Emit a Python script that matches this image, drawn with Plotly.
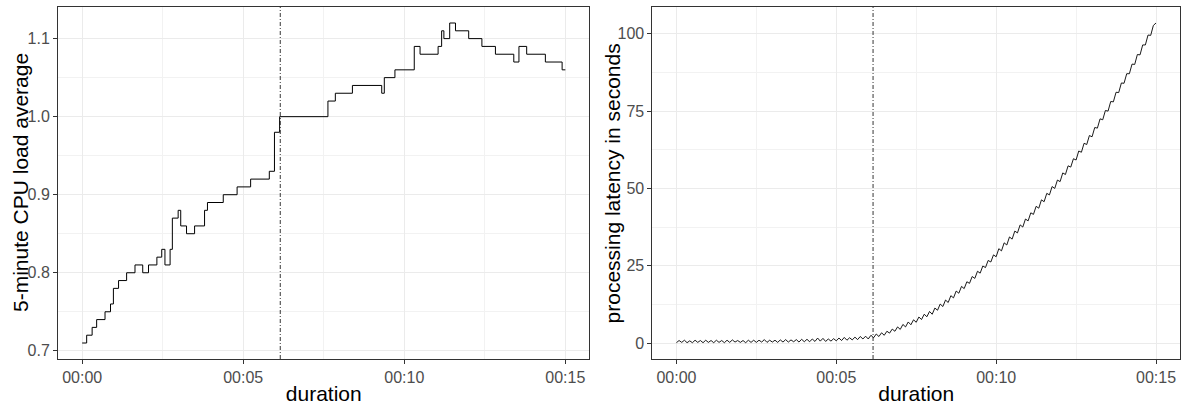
import plotly.graph_objects as go

# ---- data -------------------------------------------------------------
# left panel: 5-minute CPU load average (step series), time in minutes
cpu_minutes = [0, 0.14, 0.31, 0.45, 0.71, 0.88, 0.97, 1.13, 1.38, 1.64, 1.88, 2.06,
               2.32, 2.47, 2.57, 2.73, 2.80, 2.98, 3.06, 3.24, 3.49, 3.80, 3.89, 4.38,
               4.81, 5.23, 5.81, 5.97, 6.13, 7.63, 7.86, 8.39, 9.30, 9.38, 9.71, 10.31,
               10.49, 11.05, 11.16, 11.23, 11.41, 11.59, 12.00, 12.41, 12.83, 13.40,
               13.56, 13.80, 14.38, 14.90, 15.0]
cpu_load = [0.71, 0.72, 0.73, 0.74, 0.75, 0.76, 0.78, 0.79, 0.80, 0.81, 0.80, 0.81,
            0.82, 0.83, 0.81, 0.83, 0.87, 0.88, 0.86, 0.85, 0.86, 0.88, 0.89, 0.90,
            0.91, 0.92, 0.93, 0.98, 1.00, 1.02, 1.03, 1.04, 1.03, 1.05, 1.06, 1.09,
            1.08, 1.09, 1.11, 1.10, 1.12, 1.11, 1.10, 1.09, 1.08, 1.07, 1.09, 1.08,
            1.07, 1.06, 1.06]

# right panel: processing latency in seconds, one reading every 5 seconds
latency_step_seconds = 5
latency = [
    0.1, 0.8, 0.2, 0.9, 0.1, 0.7,
    0.1, 0.9, 0.2, 0.8, 0.1, 0.9,
    0.2, 0.8, 0.1, 0.9, 0.2, 0.8,
    0.1, 0.9, 0.2, 1.0, 0.3, 0.8,
    0.2, 0.8, 0.1, 0.9, 0.2, 0.9,
    0.2, 0.9, 0.3, 1.1, 0.2, 0.9,
    0.3, 0.9, 0.2, 1.0, 0.3, 1.1,
    0.3, 1.0, 0.4, 1.1, 0.3, 1.2,
    0.4, 1.2, 0.4, 1.3, 0.5, 1.6,
    0.6, 1.5, 0.5, 1.3, 0.6, 1.4,
    0.7, 1.6, 0.8, 1.8, 0.9, 1.7,
    1.0, 1.9, 1.1, 2.1, 1.3, 2.2,
    1.3, 2.5, 1.7, 2.9, 2.1, 3.3,
    2.5, 3.8, 3.2, 4.5, 3.8, 5.2,
    4.4, 6.0, 5.2, 6.8, 5.9, 7.5,
    6.7, 8.4, 7.6, 9.3, 8.5, 10.2,
    9.3, 11.3, 10.6, 12.6, 11.8, 13.9,
    13.1, 15.3, 14.6, 16.8, 16.1, 18.3,
    17.6, 19.8, 19.3, 21.5, 20.9, 23.2,
    22.6, 24.9, 24.4, 26.7, 26.2, 28.5,
    27.9, 30.5, 29.8, 32.4, 31.7, 34.3,
    33.6, 36.2, 35.6, 38.2, 37.5, 40.1,
    39.5, 42.1, 41.6, 44.2, 43.6, 46.3,
    45.7, 48.4, 47.9, 50.6, 50.0, 52.7,
    52.2, 55.0, 54.5, 57.3, 56.9, 59.6,
    59.2, 62.1, 61.7, 64.6, 64.2, 67.1,
    66.7, 69.7, 69.5, 72.5, 72.2, 75.2,
    75.0, 78.1, 78.0, 81.1, 81.0, 84.1,
    84.0, 87.1, 87.1, 90.2, 90.1, 93.3,
    93.2, 96.4, 96.4, 99.6, 99.5, 102.7,
    103.5,
]
latency_minutes = [i * latency_step_seconds / 60 for i in range(len(latency))]

event_minute = 6.15  # dashed reference line

x_tick_vals = [0, 5, 10, 15]
x_tick_text = ["00:00", "00:05", "00:10", "00:15"]
cpu_tick_vals = [0.7, 0.8, 0.9, 1.0, 1.1]
cpu_tick_text = ["0.7", "0.8", "0.9", "1.0", "1.1"]
lat_tick_vals = [0, 25, 50, 75, 100]

x_title = "duration"
cpu_title = "5-minute CPU load average"
lat_title = "processing latency in seconds"

# ---- figure -----------------------------------------------------------
FONT = "Liberation Sans, Arial, sans-serif"
fig = go.Figure()
fig.add_trace(go.Scatter(x=cpu_minutes, y=cpu_load, mode="lines",
                         line=dict(color="black", width=1, shape="hv"),
                         xaxis="x", yaxis="y", showlegend=False, hoverinfo="skip"))
fig.add_trace(go.Scatter(x=latency_minutes, y=latency, mode="lines",
                         line=dict(color="black", width=0.9),
                         xaxis="x2", yaxis="y2", showlegend=False, hoverinfo="skip"))

for xr in ("x", "x2"):
    fig.add_shape(type="line", xref=xr, yref=("y" if xr == "x" else "y2") + " domain",
                  x0=event_minute, x1=event_minute, y0=0, y1=1,
                  line=dict(color="black", width=0.8, dash="4px,2px,1px,2px"))

def expand(lo, hi, f=0.05):
    d = (hi - lo) * f
    return [lo - d, hi + d]

common_axis = dict(
    showline=True, mirror=True, linecolor="#333333", linewidth=1,
    ticks="outside", ticklen=4, tickcolor="#333333", tickwidth=1,
    showgrid=True, gridcolor="#EBEBEB", gridwidth=1,
    zeroline=False,
    tickfont=dict(family=FONT, size=16, color="#4D4D4D"),
)
title_font = dict(family=FONT, size=21, color="black")
minor_x = dict(tickvals=[2.5, 7.5, 12.5], showgrid=True, gridcolor="#F2F2F2", gridwidth=1, ticks="")
fig.update_layout(
    width=1183, height=405,
    margin=dict(l=58, r=2, t=7, b=44),
    paper_bgcolor="white", plot_bgcolor="white",
    xaxis=dict(common_axis, domain=[0, 0.4737], anchor="y",
               range=expand(min(cpu_minutes), max(cpu_minutes)),
               tickvals=x_tick_vals, ticktext=x_tick_text, minor=minor_x,
               title=dict(text=x_title, font=title_font, standoff=2)),
    yaxis=dict(common_axis, domain=[0, 1], anchor="x",
               range=expand(min(cpu_load), max(cpu_load)),
               tickvals=cpu_tick_vals, ticktext=cpu_tick_text,
               minor=dict(tickvals=[0.75, 0.85, 0.95, 1.05], showgrid=True, gridcolor="#F2F2F2", gridwidth=1, ticks="")),
    xaxis2=dict(common_axis, domain=[0.5298, 1], anchor="y2",
                range=expand(min(latency_minutes), max(latency_minutes)),
                tickvals=x_tick_vals, ticktext=x_tick_text, minor=minor_x,
                title=dict(text=x_title, font=title_font, standoff=2)),
    yaxis2=dict(common_axis, domain=[0, 1], anchor="x2",
                range=expand(0, max(latency)),
                tickvals=lat_tick_vals,
                minor=dict(tickvals=[12.5, 37.5, 62.5, 87.5], showgrid=True, gridcolor="#F2F2F2", gridwidth=1, ticks="")),
)
# y-axis titles placed as rotated text annotations next to each panel
fig.add_annotation(text=cpu_title, xref="x domain", yref="y domain", x=0, y=0.5,
                   xanchor="center", yanchor="middle", xshift=-38, textangle=-90,
                   showarrow=False, font=title_font)
fig.add_annotation(text=lat_title, xref="x2 domain", yref="y2 domain", x=0, y=0.5,
                   xanchor="center", yanchor="middle", xshift=-40, textangle=-90,
                   showarrow=False, font=title_font)

fig.write_html("out.html", config={"displayModeBar": False},
               post_script="document.body.style.margin='0';document.body.style.overflow='hidden';")
